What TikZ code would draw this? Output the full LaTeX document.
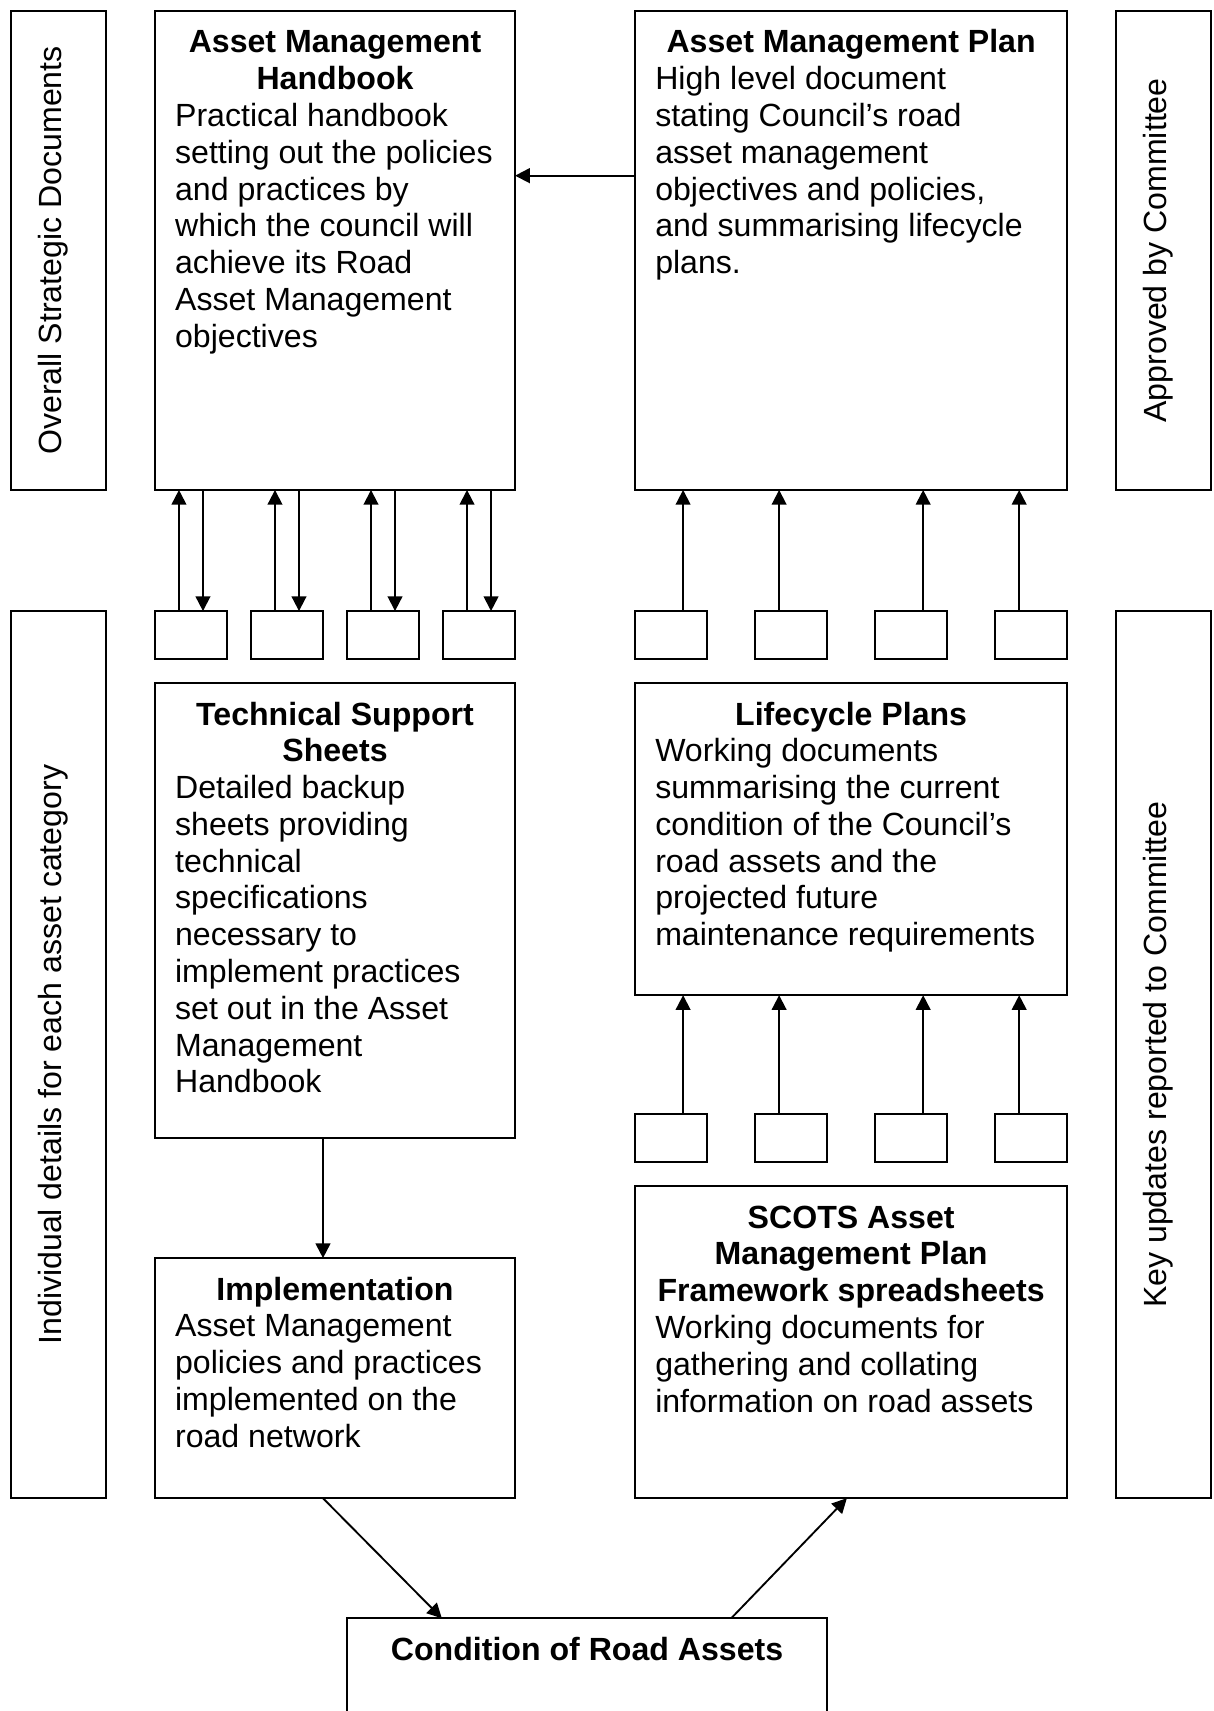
\documentclass[tikz,border=0pt]{standalone}
\usepackage{fontspec}
\setmainfont{Liberation Sans}
\usetikzlibrary{arrows.meta,positioning}
\newcommand{\pxu}{0.408pt}
\newcommand{\txtsize}{\fontsize{12}{13.75}\selectfont}

\begin{document}
\begin{tikzpicture}[x=0.408pt, y=0.408pt,
    every node/.style={font=\txtsize},
    box/.style={draw, line width=0.7pt, inner sep=0pt, outer sep=0pt},
    sidebox/.style={box, rotate=90, minimum height=87*\pxu, text depth=6pt},
    bigbox/.style={box, minimum height=#1*\pxu},
    smallbox/.style={box, minimum width=66*\pxu, minimum height=44*\pxu},
    ttl/.style={font=\txtsize\bfseries, align=center, inner sep=0pt},
    body/.style={align=left, inner sep=0pt},
    arr/.style={line width=0.7pt, -{Triangle[length=5.5pt, width=5.5pt]}}]

    \useasboundingbox (0,0) rectangle (1112,-1568);

    % Side labels
    \node[sidebox, minimum width=439*\pxu] (osd) at (53.5,-229.5) {Overall Strategic Documents};
    \node[sidebox, minimum width=813*\pxu] (ind) at (53.5,-966.5) {Individual details for each asset category};
    \node[sidebox, minimum width=439*\pxu] (apc) at (1066,-229.5) {Approved by Committee};
    \node[sidebox, minimum width=813*\pxu] (key) at (1066,-966.5) {Key updates reported to Committee};

    % Handbook
    \node[bigbox=439, minimum width=330*\pxu] (hb) at (307,-229.5) {};
    \node[ttl, below=5.88pt of hb.north] (hbt) {\strut Asset Management\\Handbook};
    \node[body, below right=33.38pt and 7.34pt of hb.north west] (hbb) {\strut Practical handbook\\setting out the policies\\and practices by\\which the council will\\achieve its Road\\Asset Management\\objectives};

    % Plan
    \node[bigbox=439, minimum width=396*\pxu] (amp) at (780,-229.5) {};
    \node[ttl, below=5.88pt of amp.north] (ampt) {\strut Asset Management Plan};
    \node[body, below right=19.63pt and 7.34pt of amp.north west] (ampb) {\strut High level document\\stating Council’s road\\asset management\\objectives and policies,\\and summarising lifecycle\\plans.};

    % Technical support sheets
    \node[bigbox=417, minimum width=330*\pxu] (tss) at (307,-834.5) {};
    \node[ttl, below=5.88pt of tss.north] (tsst) {\strut Technical Support\\Sheets};
    \node[body, below right=33.38pt and 7.34pt of tss.north west] (tssb) {\strut Detailed backup\\sheets providing\\technical\\specifications\\necessary to\\implement practices\\set out in the Asset\\Management\\Handbook};

    % Lifecycle plans
    \node[bigbox=286, minimum width=396*\pxu] (lcp) at (780,-769) {};
    \node[ttl, below=5.88pt of lcp.north] (lcpt) {\strut Lifecycle Plans};
    \node[body, below right=19.63pt and 7.34pt of lcp.north west] (lcpb) {\strut Working documents\\summarising the current\\condition of the Council’s\\road assets and the\\projected future\\maintenance requirements};

    % Implementation
    \node[bigbox=220, minimum width=330*\pxu] (impl) at (307,-1263) {};
    \node[ttl, below=5.88pt of impl.north] (implt) {\strut Implementation};
    \node[body, below right=19.63pt and 7.34pt of impl.north west] (implb) {\strut Asset Management\\policies and practices\\implemented on the\\road network};

    % SCOTS spreadsheets
    \node[bigbox=286, minimum width=396*\pxu] (scots) at (780,-1230) {};
    \node[ttl, below=5.88pt of scots.north] (scotst) {\strut SCOTS Asset\\Management Plan\\Framework spreadsheets};
    \node[body, below right=47.13pt and 7.34pt of scots.north west] (scotsb) {\strut Working documents for\\gathering and collating\\information on road assets};

    % Condition
    \node[bigbox=117, minimum width=440*\pxu] (cond) at (538,-1541.5) {};
    \node[ttl, below=5.88pt of cond.north] (condt) {\strut Condition of Road Assets};

    % Asset category boxes
    \node[smallbox] (t1) at (175,-582) {};
    \node[smallbox] (t2) at (263,-582) {};
    \node[smallbox] (t3) at (351,-582) {};
    \node[smallbox] (t4) at (439,-582) {};
    \node[smallbox] (l1) at (615,-582) {};
    \node[smallbox] (l2) at (725,-582) {};
    \node[smallbox] (l3) at (835,-582) {};
    \node[smallbox] (l4) at (945,-582) {};
    \node[smallbox] (s1) at (615,-1043) {};
    \node[smallbox] (s2) at (725,-1043) {};
    \node[smallbox] (s3) at (835,-1043) {};
    \node[smallbox] (s4) at (945,-1043) {};

    % Handbook <-> category boxes
    \draw[arr] ([xshift=-4.49pt]t1.north) -- ([xshift=-4.49pt]t1.north |- hb.south);
    \draw[arr] ([xshift=4.49pt]t1.north |- hb.south) -- ([xshift=4.49pt]t1.north);
    \draw[arr] ([xshift=-4.49pt]t2.north) -- ([xshift=-4.49pt]t2.north |- hb.south);
    \draw[arr] ([xshift=4.49pt]t2.north |- hb.south) -- ([xshift=4.49pt]t2.north);
    \draw[arr] ([xshift=-4.49pt]t3.north) -- ([xshift=-4.49pt]t3.north |- hb.south);
    \draw[arr] ([xshift=4.49pt]t3.north |- hb.south) -- ([xshift=4.49pt]t3.north);
    \draw[arr] ([xshift=-4.49pt]t4.north) -- ([xshift=-4.49pt]t4.north |- hb.south);
    \draw[arr] ([xshift=4.49pt]t4.north |- hb.south) -- ([xshift=4.49pt]t4.north);

    % Category boxes -> plan
    \draw[arr] ([xshift=4.49pt]l1.north) -- ([xshift=4.49pt]l1.north |- amp.south);
    \draw[arr] ([xshift=-4.49pt]l2.north) -- ([xshift=-4.49pt]l2.north |- amp.south);
    \draw[arr] ([xshift=4.49pt]l3.north) -- ([xshift=4.49pt]l3.north |- amp.south);
    \draw[arr] ([xshift=-4.49pt]l4.north) -- ([xshift=-4.49pt]l4.north |- amp.south);

    % Spreadsheets -> lifecycle plans
    \draw[arr] ([xshift=4.49pt]s1.north) -- ([xshift=4.49pt]s1.north |- lcp.south);
    \draw[arr] ([xshift=-4.49pt]s2.north) -- ([xshift=-4.49pt]s2.north |- lcp.south);
    \draw[arr] ([xshift=4.49pt]s3.north) -- ([xshift=4.49pt]s3.north |- lcp.south);
    \draw[arr] ([xshift=-4.49pt]s4.north) -- ([xshift=-4.49pt]s4.north |- lcp.south);

    % Flow
    \draw[arr] ([yshift=-61.6pt]amp.north west) -- ([yshift=-61.6pt]amp.north west -| hb.east);
    \draw[arr] ([xshift=-4.49pt]tss.south) -- ([xshift=-4.49pt]impl.north);
    \draw[arr] ([xshift=-4.49pt]impl.south) -- ([xshift=-54.3pt]cond.north);
    \draw[arr] ([xshift=53.9pt]cond.north) -- ([xshift=-1.6pt]scots.south);
\end{tikzpicture}
\end{document}
